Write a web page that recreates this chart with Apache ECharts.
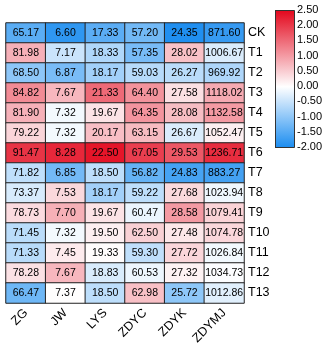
<!DOCTYPE html>
<html>
<head>
<meta charset="utf-8">
<script src="https://cdn.jsdelivr.net/npm/echarts@6/dist/echarts.min.js"></script>
<style>
html, body { margin: 0; padding: 0; background: #fff; }
#main { width: 328px; height: 349px; }
</style>
</head>
<body>
<div id="main"></div>
<script>
/* 列名和处理名 */
var traits = ['ZG', 'JW', 'LYS', 'ZDYC', 'ZDYK', 'ZDYMJ'];
var treatments = ['CK', 'T1', 'T2', 'T3', 'T4', 'T5', 'T6', 'T7', 'T8', 'T9', 'T10', 'T11', 'T12', 'T13'];

var ZG = [65.17, 81.98, 68.50, 84.82, 81.90, 79.22, 91.47, 71.82, 73.37, 78.73, 71.45, 71.33, 78.28, 66.47];
var JW = [6.60, 7.17, 6.87, 7.67, 7.32, 7.32, 8.28, 6.85, 7.53, 7.70, 7.32, 7.45, 7.67, 7.37];
var LYS = [17.33, 18.33, 18.17, 21.33, 19.67, 20.17, 22.50, 18.50, 18.17, 19.67, 19.50, 19.33, 18.83, 18.50];
var ZDYC = [57.20, 57.35, 59.03, 64.40, 64.35, 63.15, 67.05, 56.82, 59.22, 60.47, 62.50, 59.30, 60.53, 62.98];
var ZDYK = [24.35, 28.02, 26.27, 27.58, 28.08, 26.67, 29.53, 24.83, 27.68, 28.58, 27.48, 27.72, 27.32, 25.72];
var ZDYMJ = [871.60, 1006.67, 969.92, 1118.02, 1132.58, 1052.47, 1236.71, 883.27, 1023.94, 1079.41, 1074.78, 1026.84, 1034.73, 1012.86];

var legendTicks = [-2, 2.5];

var columns = [ZG, JW, LYS, ZDYC, ZDYK, ZDYMJ];

/* 按列标准化 (z-score) */
function zscore(arr) {
	var n = arr.length, mean = 0, sd = 0;
	arr.forEach(function(v) { mean += v; });
	mean = mean / n;
	arr.forEach(function(v) { sd += (v - mean) * (v - mean); });
	sd = Math.sqrt(sd / (n - 1));
	return arr.map(function(v) { return (v - mean) / sd; });
}

var data = [];
columns.forEach(function(col, i) {
	var z = zscore(col);
	col.forEach(function(v, j) {
		data.push([i, j, z[j], v]);
	});
});

// 色带：-2 蓝，0 白，2.5 红
var blue = '#1a8cf0', red = '#e3061c';
var colors = [];
for (var k = 0; k <= 9; k++) {
	var t = legendTicks[0] + k * 0.5;
	if (t <= 0) {
		colors.push(echarts.color.lerp((t - legendTicks[0]) / (0 - legendTicks[0]), [blue, '#ffffff']));
	} else {
		colors.push(echarts.color.lerp(t / legendTicks[1], ['#ffffff', red]));
	}
}
// 色带渐变 (上红下蓝)
var stops = colors.map(function(c, i) {
	return { offset: 1 - i / (colors.length - 1), color: c };
}).reverse();

var chart = echarts.init(document.getElementById('main'));
chart.setOption({
	animation: false,
	backgroundColor: '#fff',
	grid: [
		{ left: 6, top: 23, width: 238, height: 280 },
		{ left: 275, top: 10, width: 19, height: 137 }
	],
	graphic: [{
		type: 'rect',
		left: 275,
		top: 10,
		z: 100,
		shape: { x: 0, y: 0, width: 19, height: 137 },
		style: {
			fill: new echarts.graphic.LinearGradient(0, 0, 0, 1, stops),
			stroke: '#333',
			lineWidth: 1
		}
	}],
	xAxis: [{
		type: 'category',
		data: traits,
		gridIndex: 0,
		axisLine: { show: false },
		axisTick: { show: false },
		axisLabel: {
			rotate: 45,
			margin: 8,
			fontSize: 12.5,
			fontFamily: 'Liberation Sans',
			color: '#000'
		}
	}, {
		type: 'value',
		gridIndex: 1,
		show: false
	}],
	yAxis: [{
		type: 'category',
		data: treatments,
		inverse: true,
		position: 'right',
		gridIndex: 0,
		axisLine: { show: false },
		axisTick: { show: false },
		axisLabel: {
			margin: 4,
			fontSize: 12.5,
			fontFamily: 'Liberation Sans',
			color: '#000'
		}
	}, {
		type: 'value',
		gridIndex: 1,
		position: 'right',
		min: legendTicks[0],
		max: legendTicks[1],
		interval: 0.5,
		splitLine: { show: false },
		axisLine: { show: false },
		axisTick: { show: true, length: 3, lineStyle: { color: '#333' } },
		axisLabel: {
			margin: 3,
			fontSize: 11,
			fontFamily: 'Liberation Sans',
			color: '#000',
			formatter: function(v) { return v.toFixed(2); }
		}
	}],
	visualMap: {
		type: 'continuous',
		show: false,
		min: legendTicks[0],
		max: legendTicks[1],
		dimension: 2,
		seriesIndex: 0,
		inRange: { color: colors }
	},
	series: [{
		type: 'heatmap',
		xAxisIndex: 0,
		yAxisIndex: 0,
		data: data,
		encode: { x: 0, y: 1 },
		itemStyle: { borderColor: '#222', borderWidth: 1 },
		label: {
			show: true,
			color: '#000',
			fontSize: 10.5,
			fontFamily: 'Liberation Sans',
			formatter: function(p) { return p.data[3].toFixed(2); }
		}
	}]
});
</script>
</body>
</html>
